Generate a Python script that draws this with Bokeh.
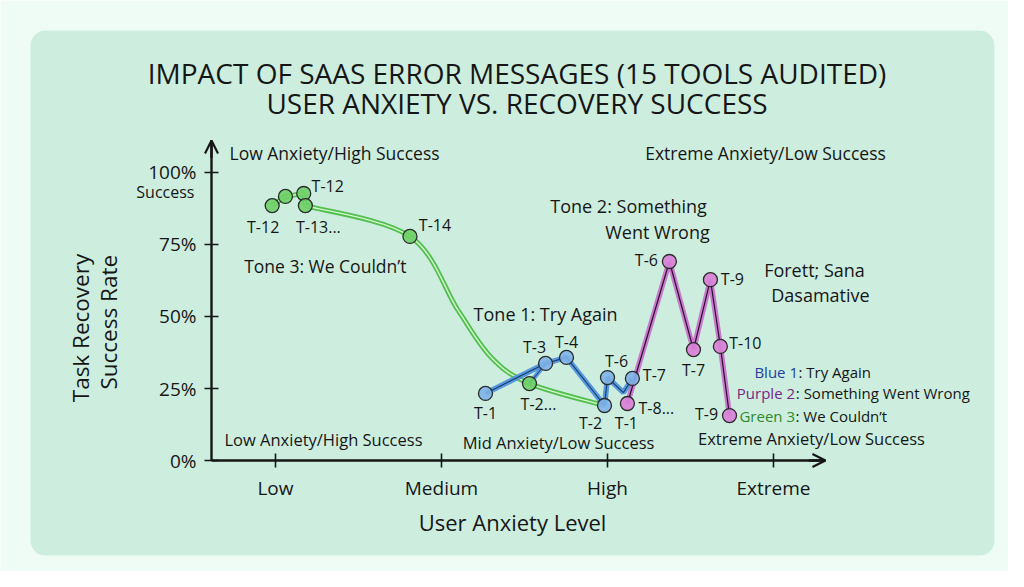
from math import pi
from bokeh.plotting import figure
from bokeh.models import Range1d, BoxAnnotation, Label, Arrow, OpenHead, FixedTicker
from bokeh.core.properties import value
from bokeh.embed import file_html
from bokeh.resources import INLINE

FONT = "Open Sans"
INK = "#161616"

# ---------------- data ----------------
anxiety_levels = ["Low", "Medium", "High", "Extreme"]
anxiety_pos = [0, 1, 2, 3]
success_ticks = [0, 25, 50, 75, 100]
success_tick_labels = ["0%", "25%", "50%", "75%", "100%"]

# Tone 3: "We Couldn't" (green)
green_names = ["T-12", "", "T-12", "T-13...", "T-14", "T-2..."]
green_x = [-0.02, 0.06, 0.17, 0.18, 0.81, 1.53]
green_y = [88.5, 91.7, 92.7, 88.5, 77.8, 26.7]
# path of the green curve
green_path_x = [-0.02, 0.06, 0.17, 0.18, 0.81, 1.10, 1.30, 1.53, 1.98]
green_path_y = [88.5, 91.7, 92.7, 88.5, 77.8, 52.1, 35.8, 26.7, 19.1]

# Tone 1: "Try Again" (blue)
blue_names = ["T-1", "T-3", "T-4", "T-2", "T-6", "", "T-7"]
blue_x = [1.265, 1.627, 1.753, 1.982, 2.0, 2.096, 2.15]
blue_y = [23.3, 33.7, 35.8, 19.1, 28.8, 23.6, 28.5]

# Tone 2: "Something Went Wrong" (purple)
purple_names = ["T-1", "T-6", "T-7", "T-9", "T-10", "T-9"]
purple_x = [2.12, 2.373, 2.518, 2.62, 2.68, 2.735]
purple_y = [19.8, 69.1, 38.5, 62.8, 39.6, 15.6]
extra_name = "T-8..."

# ---------------- label offsets (px, +down) ----------------
green_dx = [-9, 0, 24, 13, 25, 9]
green_dy = [21, 0, -8, 21, -11, 20]
blue_dx = [0, -11, 0, -14, 9, 0, 22]
blue_dy = [20, -16, -15, 18, -17, 0, -3]
purple_dx = [-1, -23, 0, 22, 25, -23]
purple_dy = [20, -1, 20, -1, -3, -2]

OUTER = "#eefcf5"
PANEL = "#cdeedf"
GREEN = "#45b93f"
GREEN_L = "#d4f7cf"
BLUE = "#4a8fdc"
BLUE_D = "#173a6e"
PURPLE = "#c864c8"
PURPLE_D = "#2a0f30"

X_AX0, X_AX1 = -0.3855, 3.313   # extent of the drawn x axis
Y_AX0, Y_AX1 = 0.0, 111.1       # extent of the drawn y axis

p = figure(width=1008, height=571, output_backend="svg", toolbar_location=None,
           x_range=Range1d(-1.6566, 4.4157), y_range=Range1d(-38.54, 159.72),
           min_border_left=0, min_border_right=0, min_border_top=0,
           min_border_bottom=0)
p.border_fill_color = OUTER
p.background_fill_color = OUTER
p.outline_line_color = None
p.grid.visible = False

panel = BoxAnnotation(left=-1.476, right=4.331, top=149.3, bottom=-33.0,
                      fill_color=PANEL, fill_alpha=1.0, line_color=None,
                      border_radius=15, level="underlay")
p.add_layout(panel)

# axes
for ax in (p.xaxis[0], p.yaxis[0]):
    ax.axis_line_width = 2.4
    ax.axis_line_color = INK
    ax.major_tick_in = 7
    ax.major_tick_out = 7
    ax.major_tick_line_width = 1.6
    ax.major_tick_line_color = INK
    ax.minor_tick_line_color = None
    ax.major_label_text_font = FONT
    ax.major_label_text_font_size = "19px"
    ax.major_label_text_color = INK
p.xaxis.fixed_location = Y_AX0
p.xaxis.bounds = (X_AX0, X_AX1)
p.yaxis.fixed_location = X_AX0
p.yaxis.bounds = (Y_AX0, Y_AX1)
p.xaxis.ticker = FixedTicker(ticks=anxiety_pos)
p.xaxis.major_label_overrides = {k: v for k, v in zip(anxiety_pos, anxiety_levels)}
p.xaxis.major_label_standoff = 7
p.yaxis.ticker = FixedTicker(ticks=success_ticks)
p.yaxis.major_label_overrides = {k: v for k, v in zip(success_ticks, success_tick_labels)}
p.yaxis.major_label_standoff = 8

p.add_layout(Arrow(end=OpenHead(size=13, line_width=2.2, line_color=INK),
                   x_start=X_AX1 - 0.1, y_start=0, x_end=X_AX1, y_end=0,
                   line_color=INK, line_width=2.4))
p.add_layout(Arrow(end=OpenHead(size=13, line_width=2.2, line_color=INK),
                   x_start=X_AX0, y_start=Y_AX1 - 6, x_end=X_AX0, y_end=Y_AX1,
                   line_color=INK, line_width=2.4))


def smooth(xs, ys):
    n = len(xs)
    seg = dict(x0=[], y0=[], x1=[], y1=[], cx0=[], cy0=[], cx1=[], cy1=[])
    for i in range(n - 1):
        i0 = max(i - 1, 0)
        i3 = min(i + 2, n - 1)
        seg["x0"].append(xs[i]); seg["y0"].append(ys[i])
        seg["x1"].append(xs[i + 1]); seg["y1"].append(ys[i + 1])
        seg["cx0"].append(xs[i] + (xs[i + 1] - xs[i0]) / 6)
        seg["cy0"].append(ys[i] + (ys[i + 1] - ys[i0]) / 6)
        seg["cx1"].append(xs[i + 1] - (xs[i3] - xs[i]) / 6)
        seg["cy1"].append(ys[i + 1] - (ys[i3] - ys[i]) / 6)
    return seg


# green line: small cluster as polyline, then smooth curve
p.line(green_path_x[:4], green_path_y[:4], line_color=GREEN, line_width=5, line_alpha=0.9)
p.line(green_path_x[:4], green_path_y[:4], line_color=GREEN_L, line_width=1.4)
g = smooth(green_path_x[3:], green_path_y[3:])
p.bezier(**g, line_color=GREEN, line_width=5, line_alpha=0.9)
p.bezier(**g, line_color=GREEN_L, line_width=1.4)

# blue line
p.line(blue_x, blue_y, line_color=BLUE, line_width=5.5, line_alpha=0.9)
p.line(blue_x, blue_y, line_color=BLUE_D, line_width=1.1)
p.line([green_x[5], blue_x[1]], [green_y[5], blue_y[1]], line_color=BLUE, line_width=4.5, line_alpha=0.9)
p.line([green_x[5], blue_x[1]], [green_y[5], blue_y[1]], line_color=BLUE_D, line_width=1.0)

# purple line
p.line(purple_x, purple_y, line_color=PURPLE, line_width=5.5, line_alpha=0.85)
p.line(purple_x, purple_y, line_color=PURPLE_D, line_width=1.2)

# markers
p.scatter(green_x, green_y, size=14, fill_color="#6fd067", fill_alpha=0.9,
          line_color="#2a2a2a", line_width=1.3)
bm = [i for i, n in enumerate(blue_names) if n]
p.scatter([blue_x[i] for i in bm], [blue_y[i] for i in bm], size=14, fill_color="#7fb3e8",
          fill_alpha=0.9, line_color="#2a2a2a", line_width=1.3)
p.scatter(purple_x, purple_y, size=14, fill_color="#d884d8", fill_alpha=0.95,
          line_color="#2a2a2a", line_width=1.3)

# point labels
lab_x, lab_y, lab_t, lab_dx, lab_dy = [], [], [], [], []
for xs, ys, ns, dxs, dys in ((green_x, green_y, green_names, green_dx, green_dy),
                              (blue_x, blue_y, blue_names, blue_dx, blue_dy),
                              (purple_x, purple_y, purple_names, purple_dx, purple_dy)):
    for x, y, n, dx, dy in zip(xs, ys, ns, dxs, dys):
        if n:
            lab_x.append(x); lab_y.append(y); lab_t.append(n)
            lab_dx.append(dx); lab_dy.append(dy)
lab_x.append(purple_x[0]); lab_y.append(purple_y[0]); lab_t.append(extra_name)
lab_dx.append(29); lab_dy.append(5)
p.text(x=lab_x, y=lab_y, text=lab_t, x_offset=lab_dx, y_offset=lab_dy,
       text_font=value(FONT), text_font_size="16px", text_color=INK,
       text_align="center", text_baseline="middle")


def note(x, y, text, size="17px", align="center", color=INK, angle=0, dx=0):
    p.add_layout(Label(x=x, y=y, text=text, text_font=FONT, text_font_size=size,
                       text_color=color, text_align=align, text_baseline="middle",
                       angle=angle, x_offset=dx))


# titles
note(1.455, 134.4, "IMPACT OF SAAS ERROR MESSAGES (15 TOOLS AUDITED)", size="28px")
note(1.455, 124.0, "USER ANXIETY VS. RECOVERY SUCCESS", size="28px")
# axis titles
note(1.428, -21.5, "User Anxiety Level", size="22px")
note(-1.175, 46.0, "Task Recovery", size="22.5px", angle=pi / 2)
note(-1.008, 48.0, "Success Rate", size="22.5px", angle=pi / 2)
note(-0.488, 93.4, "Success", size="16px", align="right")

# region notes
note(-0.277, 106.6, "Low Anxiety/High Success", size="17.5px", align="left")
note(2.952, 106.6, "Extreme Anxiety/Low Success", size="17.5px")
note(0.289, 7.3, "Low Anxiety/High Success", size="16.5px")
note(1.705, 6.2, "Mid Anxiety/Low Success", size="16.5px")
note(3.229, 7.6, "Extreme Anxiety/Low Success", size="16.5px")

# tone notes
note(0.30, 67.7, "Tone 3: We Couldn\u2019t", size="17.5px")
note(1.627, 51.0, "Tone 1: Try Again", size="18px")
note(2.127, 88.5, "Tone 2: Something", size="18px")
note(2.301, 79.2, "Went Wrong", size="18px")
note(3.247, 66.3, "Forett; Sana", size="18px")
note(3.283, 57.3, "Dasamative", size="18px")

# legend-like notes
note(2.885, 30.9, "Blue 1", size="15px", align="left", color="#1f3f9e")
note(2.885, 30.9, ": Try Again", size="15px", align="left", dx=44)
note(2.779, 23.3, "Purple 2", size="15px", align="left", color="#7a2585")
note(2.779, 23.3, ": Something Went Wrong", size="15px", align="left", dx=59)
note(2.795, 15.3, "Green 3", size="15px", align="left", color="#2e8a2a")
note(2.795, 15.3, ": We Couldn\u2019t", size="15px", align="left", dx=56)

html = file_html(p, INLINE)
html = html.replace("<body>", '<body style="background:%s;">' % OUTER, 1)
open("out.html", "w").write(html)
